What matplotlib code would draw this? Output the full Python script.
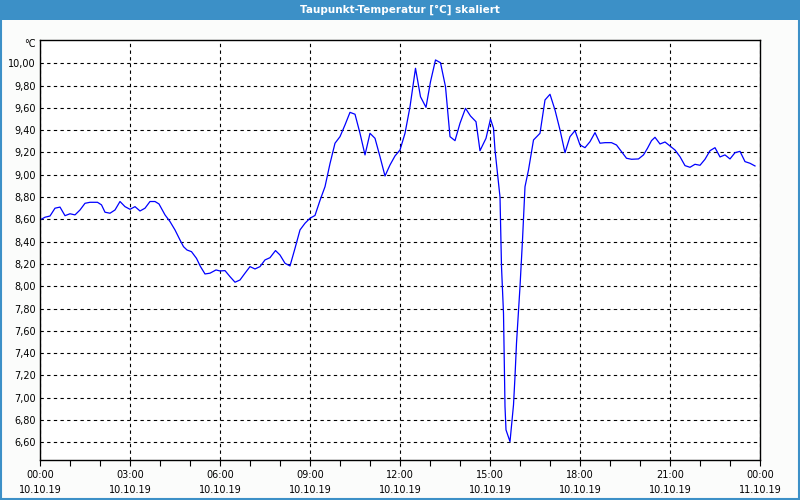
import matplotlib.pyplot as plt
from matplotlib.patches import Rectangle
import numpy as np

# Zeit in Minuten ab 10.10.19 00:00, Taupunkt in °C
minutes = [0, 10, 20, 30, 40, 50, 60, 70, 80, 90, 100, 115, 123, 130, 140, 150, 160, 170,
           180, 190, 200, 210, 220, 230, 238, 250, 260, 270, 280, 287, 294, 303, 313, 321,
           330, 340, 352, 360, 370, 380, 390, 400, 410, 420, 430, 440, 450, 460, 471, 480,
           490, 500, 510, 520, 530, 540, 550, 560, 570, 580, 590, 600, 610, 620, 630, 640,
           650, 660, 670, 680, 690, 700, 710, 720, 730, 740, 751, 761, 772, 781, 791, 801,
           811, 820, 830, 840, 851, 861, 872, 880, 892, 901, 907, 910, 920, 923, 927, 930,
           932, 940, 947, 950, 953, 960, 965, 970, 977, 987, 1000, 1010, 1020, 1030, 1040,
           1050, 1060, 1070, 1080, 1090, 1100, 1110, 1120, 1130, 1143, 1153, 1163, 1173,
           1183, 1197, 1207, 1215, 1223, 1230, 1240, 1250, 1260, 1270, 1280, 1290, 1300,
           1310, 1320, 1330, 1340, 1350, 1360, 1370, 1380, 1390, 1400, 1410, 1420, 1430]
taupunkt = [8.594, 8.619, 8.63, 8.70, 8.71, 8.633, 8.65, 8.64, 8.684, 8.744, 8.753, 8.753,
            8.73, 8.664, 8.655, 8.684, 8.76, 8.714, 8.69, 8.714, 8.675, 8.70, 8.76, 8.76,
            8.738, 8.64, 8.58, 8.505, 8.415, 8.355, 8.325, 8.31, 8.25, 8.176, 8.11, 8.117,
            8.146, 8.137, 8.14, 8.086, 8.036, 8.056, 8.117, 8.176, 8.155, 8.176, 8.236,
            8.256, 8.32, 8.28, 8.206, 8.182, 8.34, 8.505, 8.565, 8.61, 8.635, 8.77, 8.893,
            9.10, 9.283, 9.342, 9.447, 9.56, 9.543, 9.372, 9.178, 9.372, 9.327, 9.162,
            8.989, 9.088, 9.169, 9.222, 9.372, 9.61, 9.955, 9.70, 9.605, 9.835, 10.03,
            10.005, 9.79, 9.342, 9.306, 9.462, 9.596, 9.527, 9.476, 9.216, 9.327, 9.50,
            9.417, 9.222, 8.80, 8.176, 7.758, 6.92, 6.711, 6.606, 6.935, 7.19, 7.489,
            7.996, 8.415, 8.893, 9.043, 9.312, 9.372, 9.671, 9.722, 9.581, 9.402, 9.198,
            9.342, 9.396, 9.267, 9.243, 9.297, 9.378, 9.283, 9.288, 9.288, 9.267, 9.207,
            9.148, 9.139, 9.142, 9.178, 9.238, 9.306, 9.336, 9.276, 9.294, 9.258, 9.222,
            9.162, 9.082, 9.067, 9.094, 9.085, 9.139, 9.216, 9.243, 9.16, 9.178, 9.142,
            9.198, 9.21, 9.118, 9.103, 9.079]

x_ticks = [0, 3, 6, 9, 12, 15, 18, 21, 24]
x_labels = ["00:00\n10.10.19", "03:00\n10.10.19", "06:00\n10.10.19", "09:00\n10.10.19",
            "12:00\n10.10.19", "15:00\n10.10.19", "18:00\n10.10.19", "21:00\n10.10.19",
            "00:00\n11.10.19"]
y_ticks = [6.6, 6.8, 7.0, 7.2, 7.4, 7.6, 7.8, 8.0, 8.2, 8.4, 8.6, 8.8, 9.0, 9.2, 9.4, 9.6, 9.8, 10.0]

blau = '#3c90c7'

fig = plt.figure(figsize=(8, 5), dpi=100, facecolor='#fbfcfb')

# Titelleiste und Rahmen
fig.patches.append(Rectangle((0, 1 - 20 / 500), 1, 20 / 500, transform=fig.transFigure,
                             facecolor=blau, edgecolor='none', zorder=0))
fig.patches.append(Rectangle((0.001, 0.002), 0.998, 0.996, transform=fig.transFigure,
                             facecolor='none', edgecolor=blau, linewidth=1.5, zorder=1))
fig.text(0.5, 1 - 10 / 500, "Taupunkt-Temperatur [°C] skaliert", color='white',
         ha='center', va='center', fontsize=7.5, fontweight='bold')

ax = fig.add_axes([40 / 800, 40 / 500, 720 / 800, 420 / 500])
ax.set_facecolor('white')
ax.plot(np.array(minutes) / 60, taupunkt, color='#0000ff', linewidth=0.9)

ax.set_xlim(0, 24)
ax.set_ylim(6.441, 10.209)
ax.set_xticks(x_ticks)
ax.set_xticklabels(x_labels, fontsize=7, linespacing=1.6)
ax.set_xticks(range(25), minor=True)
ax.set_yticks(y_ticks)
ax.set_yticklabels(['{:.2f}'.format(v).replace('.', ',') for v in y_ticks], fontsize=7)
ax.tick_params(axis='y', length=0, pad=3)
ax.tick_params(axis='x', which='both', length=4, width=0.8, direction='out', pad=3)
ax.grid(True, which='major', color='black', linestyle=(0, (3, 3)), linewidth=0.8)

for s in ax.spines.values():
    s.set_linewidth(1)
    s.set_color('black')

fig.text(30 / 800, 1 - 44 / 500, "°C", fontsize=7, ha='center', va='center')

plt.savefig("out.png", dpi=100, facecolor=fig.get_facecolor())
